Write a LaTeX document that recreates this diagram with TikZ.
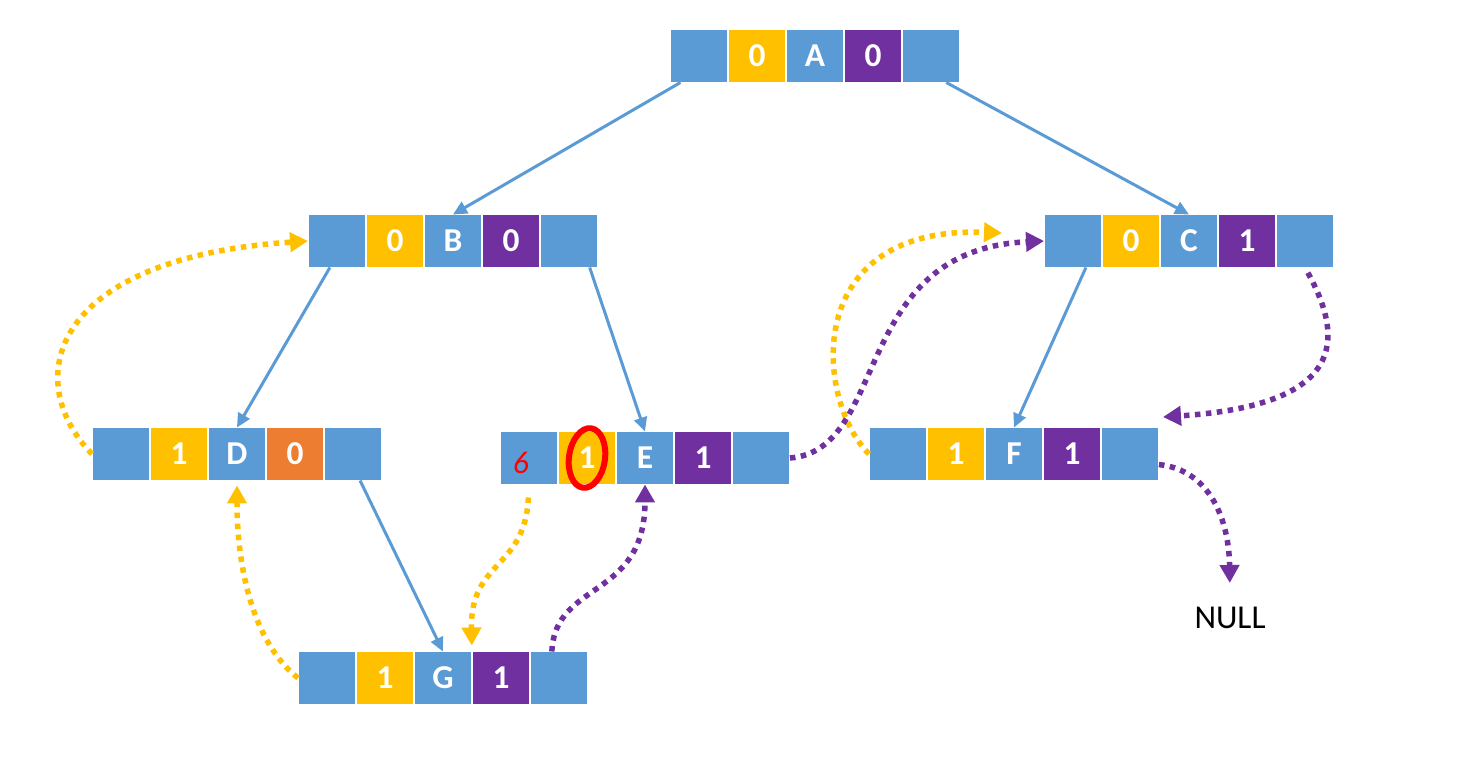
\documentclass[tikz,border=0pt]{standalone}
\usepackage{fontspec}
\setmainfont{Carlito}
\usetikzlibrary{positioning,arrows.meta}
\definecolor{tblue}{HTML}{5B9BD5}
\definecolor{tyellow}{HTML}{FFC000}
\definecolor{tpurple}{HTML}{7030A0}
\definecolor{torange}{HTML}{ED7D31}

\begin{document}
\begin{tikzpicture}[x=0.02cm, y=-0.02cm,
    cell/.style={draw=white, line width=1pt, fill=tblue, minimum width=1.16cm,
        minimum height=1.06cm, inner sep=0pt, outer sep=0pt, text=white,
        font=\fontsize{19}{21}\selectfont\bfseries},
    link/.style={tblue, line width=0.06cm, -{Triangle[length=0.28cm,width=0.26cm]}},
    thread/.style={line width=0.11cm, dash pattern=on 0.11cm off 0.11cm,
        -{Triangle[length=0.36cm,width=0.38cm]}}]
    \useasboundingbox (0,0) rectangle (1466,773);

    % Threaded nodes: name/left x/centre y/left flag/key/right flag/flag colour
    \foreach \n/\x/\y/\l/\k/\r/\rc in {A/670/56/0/A/0/tpurple, B/308/241/0/B/0/tpurple,
        C/1044/241/0/C/1/tpurple, D/92/454/1/D/0/torange, E/500/458/1/E/1/tpurple,
        F/869/454/1/F/1/tpurple, G/298/678/1/G/1/tpurple} {
        \node[cell] (\n1) at (\x+29,\y) {};
        \node[cell, fill=tyellow, right=0pt of \n1] (\n2) {\l};
        \node[cell, right=0pt of \n2] (\n3) {\k};
        \node[cell, fill=\rc, right=0pt of \n3] (\n4) {\r};
        \node[cell, right=0pt of \n4] (\n5) {};
    }

    \node[font=\fontsize{19}{22}\selectfont] (null) at (1230,618) {NULL};

    % Free ends of the threads
    \coordinate (cyt) at (1002,233);
    \coordinate (fpt) at (1163,417);

    % Child links
    \draw[link] (A1.235) -- (B3.north);
    \draw[link] (A5.-60) -- (C3.north);
    \draw[link] (B1.255) -- (D3.north);
    \draw[link] (B5.-52) -- (E3.north);
    \draw[link] (C1.-64) -- (F3.north);
    \draw[link] (D5.-75) -- (G3.north);

    % Left threads
    \draw[thread, tyellow] (D1.west) .. controls (20,380) and (50,258) .. (B1.west);
    \draw[thread, tyellow, shorten >=0.1cm] (G1.west) .. controls (250,640) and (237,560) .. (D3.south);
    \draw[thread, tyellow, shorten <=0.26cm, shorten >=0.12cm] (E1.south) .. controls (525,570) and (470,560) .. (G3.north east);
    \draw[thread, tyellow] (F1.west) .. controls (815,400) and (800,225) .. (cyt);

    % Right threads
    \draw[thread, tpurple] (E5.east) .. controls (890,450) and (850,250) .. (C1.west);
    \draw[thread, tpurple] (G5.105) .. controls (555,580) and (645,600) .. (E3.south);
    \draw[thread, tpurple, shorten <=0.12cm] (C5.south) .. controls (1345,340) and (1345,405) .. (fpt);
    \draw[thread, tpurple, shorten >=0.36cm] (F5.-20) .. controls (1210,470) and (1229,520) .. (null.north);

    % Hand-written marks
    \node[text=red, font=\fontsize{18}{20}\selectfont\itshape] (six) at (521,463) {6};
    \draw[red, line width=0.12cm, rotate around={-8:(E2.center)}] (E2.center) ellipse [x radius=0.36cm, y radius=0.6cm];
\end{tikzpicture}
\end{document}
